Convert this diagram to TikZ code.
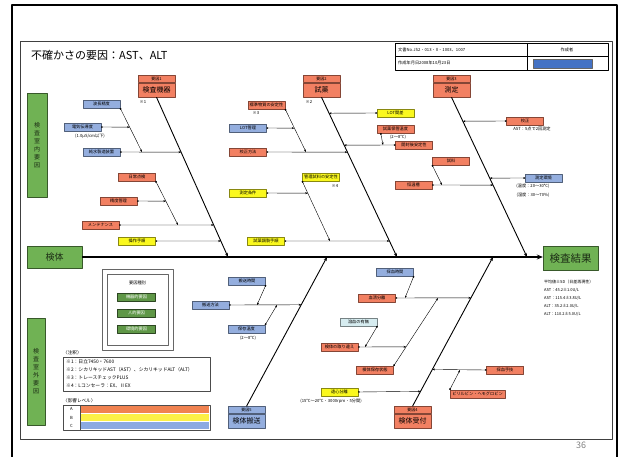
\documentclass[tikz,border=0pt]{standalone}
\usepackage{fontspec}
\setmainfont{Noto Sans CJK JP}
\usetikzlibrary{positioning,calc,arrows.meta}
\definecolor{orF}{RGB}{242,128,98}
\definecolor{blF}{RGB}{148,174,222}
\definecolor{yeF}{RGB}{250,248,30}
\definecolor{grF}{RGB}{112,178,84}
\definecolor{ltF}{RGB}{214,236,240}
\definecolor{lvA}{RGB}{240,130,80}
\definecolor{lvB}{RGB}{252,240,70}
\definecolor{lvC}{RGB}{140,170,225}
\definecolor{stamp}{RGB}{68,114,196}
\tikzset{
  itm/.style={draw=#1!55!black, fill=#1, minimum width=37pt, minimum height=8pt, inner sep=0pt, line width=.5pt, font=\fontsize{4.2}{5}\selectfont},
  fmain/.style={draw=#1!55!black, fill=#1, minimum width=37pt, minimum height=14pt, inner sep=0pt, line width=.5pt, font=\fontsize{7}{8}\selectfont},
  fhead/.style={fmain=#1, minimum height=7pt, font=\fontsize{4}{4.5}\selectfont},
  lbl/.style={inner sep=0pt, font=\fontsize{4.2}{5}\selectfont},
  lnk/.style={line width=.4pt, {Square[length=1.4pt,width=1.4pt]}-{Stealth[length=2.6pt,width=2pt]}},
  bone/.style={line width=.9pt, -{Stealth[length=4pt,width=3pt]}},
  side/.style={draw=grF!50!black, fill=grF, inner sep=0pt, align=center, text=grF!25!black},
}
\begin{document}
\begin{tikzpicture}[x=1pt, y=-1pt, line join=round]
\useasboundingbox (0,0) rectangle (621,457);
% frames
\draw[line width=2.6pt] (12,457) -- (12,5) -- (617,5) -- (617,457);
\draw[line width=.8pt, black!75] (20,41) rectangle (612,439);
\node[gray, inner sep=0pt, anchor=north, font=\fontsize{9}{9}\selectfont] (pg) at (581,442) {36};
\node[anchor=west, inner sep=0pt, font=\fontsize{11}{12}\selectfont] (title) at (31,55) {不確かさの要因：AST、ALT};
% document table
\draw[line width=.5pt] (395,43) rectangle (608,70) (395,56) -- (608,56) (527,43) -- (527,70);
\node[lbl, anchor=west] (docno) at (398,49.5) {文書No.JS2・013・II・1003、1007};
\node[lbl] (author) at (567,49.5) {作成者};
\node[lbl, anchor=west] (date) at (398,63) {作成年月日2008年10月23日};
\fill[stamp, draw=black!60] (533,59) rectangle (592,68);
% side labels and main bone
\node[side, minimum width=20pt, minimum height=104pt, font=\fontsize{6}{8}\selectfont] (inside) at (37,145) {検\\査\\室\\内\\要\\因};
\node[side, minimum width=18pt, minimum height=107pt, font=\fontsize{6}{8}\selectfont] (outside) at (36,371.5) {検\\査\\室\\外\\要\\因};
\node[side, minimum width=55pt, minimum height=22pt, font=\fontsize{9}{10}\selectfont] (kentai) at (54.5,257) {検体};
\node[side, minimum width=55pt, minimum height=24pt, font=\fontsize{10.5}{11}\selectfont] (kekka) at (570.5,258.5) {検査結果};
\draw[line width=1.3pt, -{Stealth[length=6pt,width=5pt]}] (kentai.east) -- (kentai.east -| kekka.west);
\foreach \txt [count=\i] in {平均値±SD（日差再現性）, AST：45.2±1.0U/L, AST：115.4±3.8U/L, ALT：35.2±2.0U/L, ALT：110.2±5.0U/L}
  \node[lbl, anchor=west, font=\fontsize{4}{5}\selectfont] (res\i) at (544,274+8*\i) {\txt};

% 要因1 検査機器
\node[fmain=orF] (f1) at (156.5,90) {検査機器};
\node[fhead=orF, above=0pt of f1] (h1) {要因1};
\node[lbl] (r1) at (143,101.5) {※1};
\coordinate (m1) at (228,257);
\draw[bone] (f1.south) -- (m1);
\node[itm=blF] (b1) at (101.5,104) {波長精度};
\node[itm=blF] (b2) at (82.5,127) {電気伝導度};
\node[lbl] (b2n) at (90,136) {(1.0μS/cm以下)};
\node[itm=blF] (b3) at (101.5,152) {純水製造装置};
\node[itm=orF] (b4) at (137,177) {日常点検};
\node[itm=orF] (b5) at (118.5,201) {精度管理};
\node[itm=orF] (b6) at (100.5,225) {メンテナンス};
\node[itm=yeF] (b7) at (137,241) {操作手順};
\coordinate (k1) at (142,152);
\coordinate (k2) at (178,225);
\draw[lnk] (b1.south east) -- (k1);
\draw[lnk] (b2.east) -- ($(b1.south east)!{19/44}!(k1)$);
\draw[lnk] (b3.east) -- ($(f1.south)!{55/160}!(m1)$);
\draw[lnk] (b4.south east) -- (k2);
\draw[lnk] (b5.east) -- ($(b4.south east)!{20/44}!(k2)$);
\draw[lnk] (b6.east) -- ($(f1.south)!{128/160}!(m1)$);
\draw[lnk] (b7.east) -- ($(f1.south)!{144/160}!(m1)$);

% 要因2 試薬
\node[fmain=orF] (f2) at (321.5,90) {試薬};
\node[fhead=orF, above=0pt of f2] (h2) {要因2};
\node[lbl] (r2) at (309,101.5) {※2};
\coordinate (m2) at (397,257);
\draw[bone] (f2.south) -- (m2);
\node[itm=yeF] (c1) at (395.5,113) {LOT間差};
\node[itm=orF] (c2) at (395.5,129) {試薬保管温度};
\node[lbl] (c2n) at (398,137.5) {(2～8℃)};
\node[itm=orF] (c3) at (414,145) {開封後安定性};
\node[itm=orF] (c4) at (266.5,105) {標準物質の安定性};
\node[lbl] (r3) at (256,113) {※3};
\node[itm=blF] (c5) at (248,128) {LOT管理};
\node[itm=orF] (c6) at (248,152) {校正方法};
\node[itm=yeF] (c7) at (321,177) {管理試料の安定性};
\node[lbl] (r4) at (335,186) {※4};
\node[itm=yeF] (c8) at (248,193) {測定条件};
\node[itm=yeF] (c9) at (266,241) {試薬調製手順};
\coordinate (k3) at (306,152);
\coordinate (k4) at (330,241);
\coordinate (k5) at (383,145);
\draw[lnk] (c1.west) -- ($(f2.south)!{16/160}!(m2)$);
\draw[lnk] ([xshift=4pt]c2.south west) -- (k5);
\draw[lnk] (c3.west) -- ($(f2.south)!{48/160}!(m2)$);
\draw[lnk] (c4.south east) -- (k3);
\draw[lnk] (c5.east) -- ($(c4.south east)!{19/43}!(k3)$);
\draw[lnk] (c6.east) -- ($(f2.south)!{55/160}!(m2)$);
\draw[lnk] (c7.south west) -- (k4);
\draw[lnk] (c8.east) -- ($(c7.south west)!{12/60}!(k4)$);
\draw[lnk] (c9.east) -- ($(f2.south)!{144/160}!(m2)$);

% 要因3 測定
\node[fmain=orF] (f3) at (451.5,90) {測定};
\node[fhead=orF, above=0pt of f3] (h3) {要因3};
\coordinate (m3) at (527,257);
\draw[bone] (f3.south) -- (m3);
\node[itm=orF] (d1) at (525,121) {校正};
\node[lbl] (d1n) at (532,129) {AST：5点で2回測定};
\node[itm=blF] (d2) at (543.5,178) {測定環境};
\node[lbl] (d2n) at (533,186) {(温度：20～30℃)};
\node[lbl] (d2m) at (533,195) {(湿度：30～70\%)};
\node[itm=orF] (d3) at (451,161) {試料};
\node[itm=orF] (d4) at (413.5,185) {恒温槽};
\coordinate (k6) at (442,185);
\draw[lnk] (d1.west) -- ($(f3.south)!{24/160}!(m3)$);
\draw[lnk] (d2.west) -- ($(f3.south)!{81/160}!(m3)$);
\draw[lnk] (d3.south west) -- (k6);
\draw[lnk] (d4.east) -- ($(f3.south)!{88/160}!(m3)$);

% 要因5 検体搬送
\node[fmain=blF] (f5) at (246.5,421) {検体搬送};
\node[fhead=blF, above=0pt of f5] (h5) {要因5};
\coordinate (m5) at (327,257);
\draw[bone] (h5.north) -- (m5);
\node[itm=blF] (e1) at (247,281) {搬送時間};
\node[itm=blF] (e2) at (210.5,305) {搬送方法};
\node[itm=blF] (e3) at (246.5,329) {保存温度};
\node[lbl] (e3n) at (248,338) {(2～8℃)};
\coordinate (k7) at (257,305);
\coordinate (k8) at (277,305);
\draw[lnk] (e1.south east) -- (k7);
\draw[lnk] (e2.east) -- ($(h5.north)!{102/150}!(m5)$);
\draw[lnk] (e3.north east) -- (k8);

% 要因4 検体受付
\node[fmain=orF] (f4) at (412.5,421) {検体受付};
\node[fhead=orF, above=0pt of f4] (h4) {要因4};
\coordinate (m4) at (493,257);
\draw[bone] (h4.north) -- (m4);
\node[itm=blF] (g1) at (395,272) {採血時間};
\node[itm=orF] (g2) at (377,298) {血清分離};
\node[itm=ltF] (g3) at (358.5,322) {溶血の有無};
\node[itm=orF] (g4) at (339.5,347) {検体の取り違え};
\node[itm=orF] (g5) at (375,370) {検体保存状態};
\node[itm=yeF] (g6) at (339.5,392) {遠心分離};
\node[lbl] (g6n) at (331,401) {(15℃～20℃・3000rpm・5分間)};
\node[itm=orF] (g7) at (505,370) {採血手技};
\node[itm=orF, minimum width=55pt] (g8) at (477.5,394) {ビリルビン・ヘモグロビン};
\coordinate (k9) at (405,298);
\coordinate (k10) at (438,298);
\coordinate (k11) at (365,347);
\coordinate (k12) at (460,370);
\draw[lnk] (g1.south east) -- (k9);
\draw[lnk] (g2.east) -- ($(h4.north)!{109/150}!(m4)$);
\draw[lnk] (g5.north east) -- (k10);
\draw[lnk] (g3.south east) -- (k11);
\draw[lnk] (g4.east) -- ($(g5.north east)!{19/68}!(k10)$);
\draw[lnk] (g6.east) -- ($(h4.north)!{15/150}!(m4)$);
\draw[lnk] (g7.west) -- ($(h4.north)!{37/150}!(m4)$);
\draw[lnk] (g8.north west) -- (k12);

% legend
\draw[black!60, line width=.6pt] (102,269) rectangle (173,350) (107,274) rectangle (168,345);
\node[lbl] (lgt) at (137.5,283) {要因種別};
\foreach \txt/\yy [count=\i] in {機器的要因/297, 人的要因/313, 環境的要因/329}
  \node[draw=grF!40!black, fill=grF!85!black, minimum width=38pt, minimum height=8pt, inner sep=0pt, text=white, font=\fontsize{4.2}{5}\selectfont] (lg\i) at (136.5,\yy) {\txt};

% notes
\node[lbl, anchor=west, font=\fontsize{4.6}{5}\selectfont] (chu) at (63,353) {〈注釈〉};
\draw[black!70, line width=.5pt] (63,357) rectangle (210,391);
\foreach \txt [count=\i] in {※1：日立7450・7600, ※2：シカリキッドAST（AST）、シカリキッドALT（ALT）, ※3：トレースチェックPLUS, ※4：Lコンセーラ：EX、ⅡEX}
  \node[lbl, anchor=west, font=\fontsize{4.8}{5}\selectfont] (n\i) at (66,354+8*\i) {\txt};
\node[lbl, anchor=west, font=\fontsize{4.6}{5}\selectfont] (lvt) at (63,401) {〈影響レベル〉};
\draw[black!70, line width=.5pt] (63,405) rectangle (210,430) (80,405) -- (80,430);
\foreach \lv/\col [count=\i] in {A/lvA, B/lvB, C/lvC} {
  \fill[\col] (81,405+8.33*\i-7.6) rectangle (209,405+8.33*\i-0.8);
  \node[lbl] (lv\i) at (71.5,405+8.33*\i-4.17) {\lv};
}
\end{tikzpicture}
\end{document}
